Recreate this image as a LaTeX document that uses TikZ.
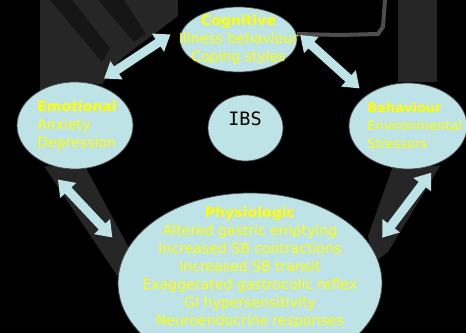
\documentclass[tikz,border=0pt]{standalone}
\usepackage{fontspec}
\newfontfamily\comicfont{DejaVu Sans}
\newfontfamily\ibsfont{DejaVu Sans Mono}
\usetikzlibrary{shapes.geometric, arrows.meta}
\definecolor{paleblue}{RGB}{189, 227, 230}
\definecolor{hiyellow}{RGB}{255, 255, 0}
\definecolor{backgrey}{RGB}{38, 38, 38}
\definecolor{backdark}{RGB}{22, 22, 22}
\definecolor{backline}{RGB}{78, 78, 78}
\tikzset{
    blob/.style={ellipse, draw=black!70, thin, fill=paleblue, inner sep=0pt, outer sep=0pt},
    txt/.style={inner sep=0pt, text=hiyellow, font=\comicfont\fontsize{8}{10.2}\selectfont},
    twoway/.style={{Triangle[width=0.42cm, length=0.3cm]}-{Triangle[width=0.42cm, length=0.3cm]}, line width=0.18cm, paleblue}
}
\begin{document}
\begin{tikzpicture}[x=0.02cm, y=-0.02cm]
    \fill[black] (0,0) rectangle (466,333);
    \useasboundingbox (0,0) rectangle (466,333);
    % faded backdrop
    \fill[backgrey] (40,0) -- (178,0) -- (178,16) -- (122,58) -- (102,84) -- (40,90) -- cycle;
    \fill[backdark] (50,0) -- (72,0) -- (110,48) -- (102,62) -- cycle;
    \fill[backdark] (98,0) -- (124,0) -- (146,34) -- (134,42) -- cycle;
    \fill[backgrey] (398,0) rectangle (437,82);
    \draw[backline, line width=0.08cm] (297,34) -- (340,35) -- (378,34) -- (383,27) -- (385,0);
    \fill[backgrey] (44,166) -- (86,168) -- (130,250) -- (120,280) -- cycle;
    \fill[backgrey] (393,166) -- (440,166) -- (388,252) -- (372,264) -- (368,236) -- cycle;

    \node[blob, minimum width=2.34cm, minimum height=1.3cm] (cog) at (238.5,39.5) {};
    \node[blob, minimum width=2.32cm, minimum height=1.74cm] (emo) at (75,125.5) {};
    \node[blob, minimum width=1.5cm, minimum height=1.32cm] (ibs) at (245.5,128) {};
    \node[blob, minimum width=2.36cm, minimum height=1.72cm] (beh) at (408,126) {};
    \node[blob, minimum width=5.28cm, minimum height=3.6cm] (phys) at (250,283) {};

    \node[txt, align=center] (cogtxt) at (cog) {\textbf{Cognitive}\\Illness behaviour\\Coping styles};
    \node[txt, align=left, anchor=west] (emotxt) at (37,126) {\textbf{Emotional}\\Anxiety\\Depression};
    \node[inner sep=0pt, font=\ibsfont\fontsize{10.5}{12}\selectfont] (ibstxt) at (245,119) {IBS};
    \node[txt, align=left, anchor=west, font=\comicfont\fontsize{7.4}{10.2}\selectfont] (behtxt) at (367,126) {\textbf{Behaviour}\\Environmental\\Stressors};
    \node[txt, align=center] (phystxt) at (250,267.5) {\textbf{Physiologic}\\Altered gastric emptying\\Increased SB contractions\\Increased SB transit\\Exaggerated gastrocolic reflex\\GI hypersensitivity\\Neuroendocrine responses};

    \draw[twoway, shorten <=0.22cm, shorten >=0.46cm] (emo.64) -- (cog.160);
    \draw[twoway, shorten <=0.16cm, shorten >=0.2cm] (cog.10) -- (beh.143);
    \draw[twoway, shorten <=0.54cm, shorten >=0.4cm] (emo.224) -- (phys.166);
    \draw[twoway, shorten <=0.25cm, shorten >=0.31cm] (beh.310) -- (phys.15);
\end{tikzpicture}
\end{document}
